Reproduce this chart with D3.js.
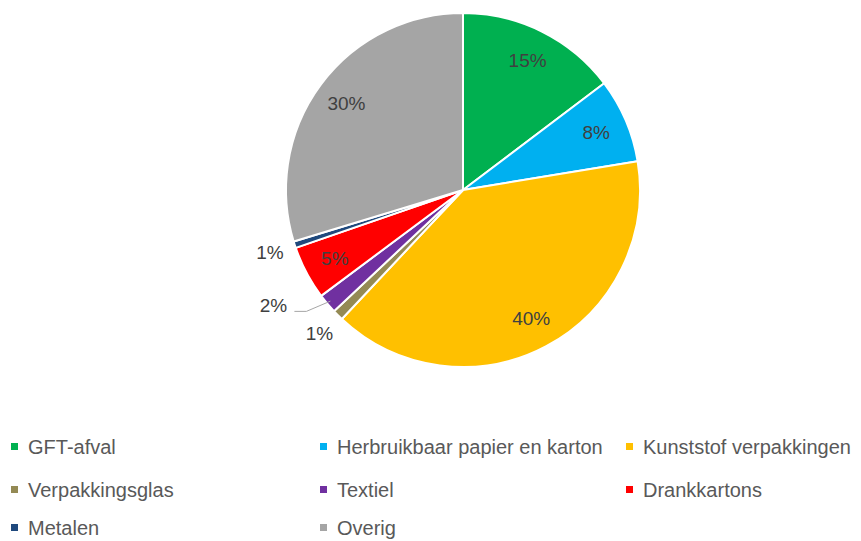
<!DOCTYPE html>
<html>
<head>
<meta charset="utf-8">
<script src="https://cdn.jsdelivr.net/npm/d3@7"></script>
<style>
  body { margin: 0; background: #fff; }
  svg { display: block; font-family: "Liberation Sans", Arial, sans-serif; }
</style>
</head>
<body>
<div id="chart"></div>
<script>
var categories = ["GFT-afval", "Herbruikbaar papier en karton", "Kunststof verpakkingen",
    "Verpakkingsglas", "Textiel", "Drankkartons", "Metalen", "Overig"];
var values = [14.7, 7.7, 39.6, 1.0, 1.8, 4.9, 0.6, 29.7];
var colors = ["#00b050", "#00b0f0", "#ffc000", "#948a54", "#7030a0", "#ff0000", "#1f497d", "#a5a5a5"];
// which labels sit outside the pie
var outside = ["Verpakkingsglas", "Textiel", "Metalen"];

function init() {
    var w = 861, h = 541;
    var cx = 463, cy = 190, r = 177;

    var svg = d3.select("#chart")
        .append("svg")
        .attr("width", w)
        .attr("height", h);

    var color = d3.scaleOrdinal().domain(categories).range(colors);

    var data = categories.map(function (c, i) { return { name: c, value: values[i] }; });
    var total = d3.sum(values);

    var pie = d3.pie()
        .value(function (d) { return d.value; })
        .sort(null);
    var arcs = pie(data);

    var arc = d3.arc().innerRadius(0).outerRadius(r);
    var labelArc = d3.arc().innerRadius(145).outerRadius(145);
    var outArc = d3.arc().innerRadius(203).outerRadius(203);

    var g = svg.append("g").attr("transform", "translate(" + cx + "," + cy + ")");

    g.selectAll("path")
        .data(arcs)
        .enter()
        .append("path")
        .attr("d", arc)
        .attr("fill", function (d) { return color(d.data.name); })
        .attr("stroke", "#fff")
        .attr("stroke-width", 2)
        .attr("stroke-linejoin", "round");

    var pct = function (d) { return Math.round(d.data.value / total * 100) + "%"; };

    // inside labels
    g.selectAll("text.in")
        .data(arcs.filter(function (d) { return outside.indexOf(d.data.name) < 0; }))
        .enter()
        .append("text")
        .attr("class", "in")
        .attr("transform", function (d) { return "translate(" + labelArc.centroid(d) + ")"; })
        .attr("text-anchor", "middle")
        .attr("dy", "0.35em")
        .attr("fill", "#404040")
        .style("font-size", "19px")
        .text(pct);

    // outside labels, the Textiel one pushed away with a leader line
    var outs = arcs.filter(function (d) { return outside.indexOf(d.data.name) >= 0; });
    outs.forEach(function (d) {
        var p = outArc.centroid(d);
        if (d.data.name === "Textiel") {
            var edge = d3.arc().innerRadius(r - 4).outerRadius(r - 4).centroid(d);
            p = [p[0] - 34, p[1] - 15];
            g.append("polyline")
                .attr("points", [[p[0] + 21, p[1] + 6], [p[0] + 33, p[1] + 6], edge].join(" "))
                .attr("fill", "none")
                .attr("stroke", "#a6a6a6")
                .attr("stroke-width", 1);
        }
        g.append("text")
            .attr("x", p[0])
            .attr("y", p[1])
            .attr("text-anchor", "middle")
            .attr("dy", "0.35em")
            .attr("fill", "#404040")
            .style("font-size", "19px")
            .text(pct(d));
    });

    // legend
    var colX = [11, 320, 626], rowY = [447, 490, 528];
    var leg = svg.selectAll("g.leg")
        .data(categories)
        .enter()
        .append("g")
        .attr("class", "leg")
        .attr("transform", function (d, i) {
            return "translate(" + colX[i % 3] + "," + rowY[Math.floor(i / 3)] + ")";
        });
    leg.append("rect")
        .attr("x", 0)
        .attr("y", -4)
        .attr("width", 7)
        .attr("height", 7)
        .attr("fill", function (d) { return color(d); });
    leg.append("text")
        .attr("x", 17)
        .attr("dy", "0.35em")
        .attr("fill", "#595959")
        .style("font-size", "20px")
        .text(function (d) { return d; });
}

window.onload = init;
</script>
</body>
</html>
